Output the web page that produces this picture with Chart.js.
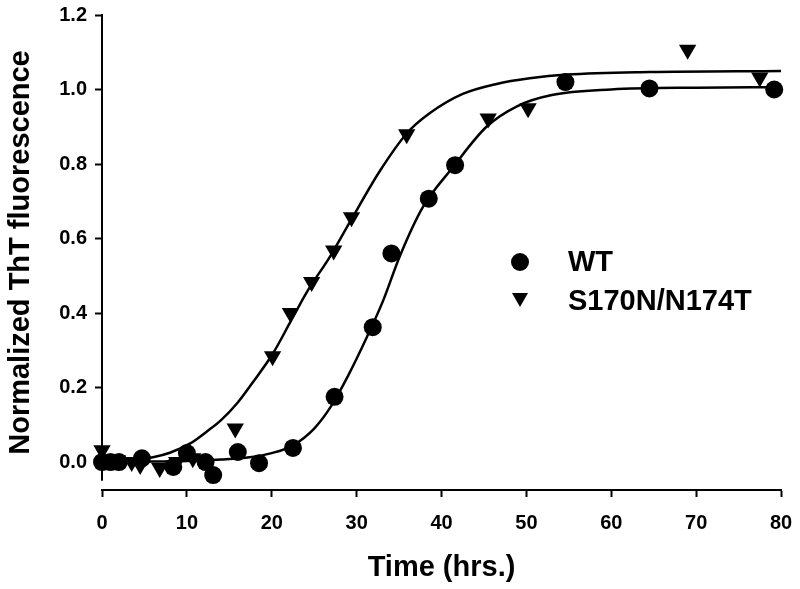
<!DOCTYPE html>
<html>
<head>
<meta charset="utf-8">
<script src="https://cdn.jsdelivr.net/npm/chart.js@4.4.1/dist/chart.umd.min.js"></script>
<style>
  html, body { margin: 0; padding: 0; background: #fff; }
  #wrap { position: relative; width: 800px; height: 589px; }
  canvas { position: absolute; left: 0; top: 0; }
  .leg { position: absolute; font-family: "Liberation Sans", Arial, sans-serif; font-weight: bold; font-size: 29px; color: #000; line-height: 1; white-space: nowrap; }
  .dot { position: absolute; width: 18px; height: 18px; border-radius: 50%; background: #000; }
  .tri { position: absolute; width: 0; height: 0; border-left: 8px solid transparent; border-right: 8px solid transparent; border-top: 14px solid #000; }
</style>
</head>
<body>
<div id="wrap">
  <canvas id="c" width="800" height="589"></canvas>
  <div class="dot" style="left:511px; top:253px;"></div>
  <div class="leg" id="l1" style="left:568px; top:247px;">WT</div>
  <div class="tri" style="left:512px; top:293px;"></div>
  <div class="leg" id="l2" style="left:568px; top:286px;">S170N/N174T</div>
</div>
<script>
// ---- Data ----
const wtTime = [0, 1, 2, 4.7, 8.4, 10, 12.2, 13.1, 16, 18.5, 22.5, 27.4, 31.9, 34.1, 38.5, 41.6, 54.6, 64.5, 79.2];
const wtValue = [0.0, 0.0, 0.0, 0.01, -0.013, 0.024, 0.0, -0.035, 0.027, -0.003, 0.038, 0.175, 0.362, 0.56, 0.707, 0.797, 1.02, 1.003, 1.0];

const mutTime = [0, 1.8, 3.5, 4.5, 6.8, 8.8, 10.7, 15.7, 20.1, 22.2, 24.7, 27.3, 29.4, 35.9, 45.5, 50.2, 69, 77.5];
const mutValue = [0.032, 0.005, 0.0, -0.008, -0.016, 0.0, 0.01, 0.09, 0.284, 0.40, 0.483, 0.568, 0.657, 0.88, 0.922, 0.95, 1.107, 1.032];

// fitted curves
const wtFitTime = [0, 5, 10, 14, 17.4, 20, 22.5, 25, 27, 29, 31.2, 33.1, 35.1, 37.8, 41.3, 45.3, 48.9, 53, 60, 70, 80];
const wtFitValue = [0.0, 0.001, 0.003, 0.007, 0.013, 0.024, 0.045, 0.09, 0.15, 0.232, 0.335, 0.432, 0.553, 0.684, 0.79, 0.9, 0.955, 0.985, 1.0, 1.005, 1.006];

const mutFitTime = [0, 3, 6, 8, 10.4, 12.4, 14, 16, 17.8, 20.1, 22.1, 24.1, 26.9, 29.4, 32.7, 35.9, 38.6, 42.5, 46.5, 50.4, 54.8, 64.5, 80];
const mutFitValue = [0.002, 0.005, 0.013, 0.025, 0.05, 0.083, 0.112, 0.16, 0.215, 0.29, 0.372, 0.455, 0.553, 0.652, 0.78, 0.882, 0.936, 0.988, 1.015, 1.03, 1.04, 1.047, 1.05];

const xTicks = [0, 10, 20, 30, 40, 50, 60, 70, 80];
const yTicks = [0.0, 0.2, 0.4, 0.6, 0.8, 1.0, 1.2];

const xTitle = 'Time (hrs.)';
const yTitle = 'Normalized ThT fluorescence';

const zip = (xs, ys) => xs.map((x, i) => ({ x: x, y: ys[i] }));
const FONT = '"Liberation Sans", Arial, sans-serif';

const yAxisLine = {
  id: 'yAxisLine',
  afterDraw(chart) {
    const { ctx, chartArea, scales } = chart;
    const y = scales.y;
    ctx.save();
    ctx.strokeStyle = '#000';
    ctx.lineWidth = 2;
    ctx.beginPath();
    ctx.moveTo(chartArea.left, y.getPixelForValue(1.2) - 1);
    ctx.lineTo(chartArea.left, y.getPixelForValue(-0.05));
    ctx.stroke();
    ctx.restore();
  }
};

new Chart(document.getElementById('c'), {
  type: 'scatter',
  data: {
    datasets: [
      { label: 'WT fit', data: zip(wtFitTime, wtFitValue), showLine: true, borderColor: '#000', borderWidth: 2.5, pointRadius: 0, cubicInterpolationMode: 'monotone', fill: false, clip: false },
      { label: 'S170N/N174T fit', data: zip(mutFitTime, mutFitValue), showLine: true, borderColor: '#000', borderWidth: 2.5, pointRadius: 0, cubicInterpolationMode: 'monotone', fill: false, clip: false },
      { label: 'WT', data: zip(wtTime, wtValue), pointStyle: 'circle', pointRadius: 9, pointHoverRadius: 9, backgroundColor: '#000', borderColor: '#000', borderWidth: 0, clip: false },
      { label: 'S170N/N174T', data: zip(mutTime, mutValue), pointStyle: 'triangle', rotation: 180, pointRadius: 10, pointHoverRadius: 10, backgroundColor: '#000', borderColor: '#000', borderWidth: 0, clip: false }
    ]
  },
  options: {
    responsive: false,
    animation: false,
    devicePixelRatio: 1,
    layout: { padding: { left: 0, right: 19, top: 15, bottom: 0 } },
    plugins: { legend: { display: false }, tooltip: { enabled: false } },
    scales: {
      x: {
        type: 'linear', min: 0, max: 80,
        afterBuildTicks: s => { s.ticks = xTicks.map(v => ({ value: v })); },
        afterFit: s => { s.height = 99; s.paddingLeft = 0; s.paddingRight = 0; },
        grid: { drawOnChartArea: false, drawTicks: true, tickLength: 7, tickWidth: 2, tickColor: '#000' },
        border: { display: true, color: '#000', width: 2 },
        ticks: { color: '#000', padding: 14, maxRotation: 0, font: { family: FONT, weight: 'bold', size: 20 }, callback: v => String(v) },
        title: { display: true, text: xTitle, color: '#000', font: { family: FONT, weight: 'bold', size: 29 }, padding: { top: 0, bottom: 4 } }
      },
      y: {
        type: 'linear', min: -0.075, max: 1.2,
        afterBuildTicks: s => { s.ticks = yTicks.map(v => ({ value: v })); },
        afterFit: s => { s.width = 102; s.paddingTop = 0; s.paddingBottom = 0; },
        grid: { drawOnChartArea: false, drawTicks: true, tickLength: 7, tickWidth: 2, tickColor: '#000' },
        border: { display: false },
        ticks: { color: '#000', padding: 8, font: { family: FONT, weight: 'bold', size: 20 }, callback: v => Number(v).toFixed(1) },
        title: { display: true, text: yTitle, color: '#000', font: { family: FONT, weight: 'bold', size: 29 }, padding: { top: 4, bottom: 0 } }
      }
    }
  },
  plugins: [yAxisLine]
});
</script>
</body>
</html>
